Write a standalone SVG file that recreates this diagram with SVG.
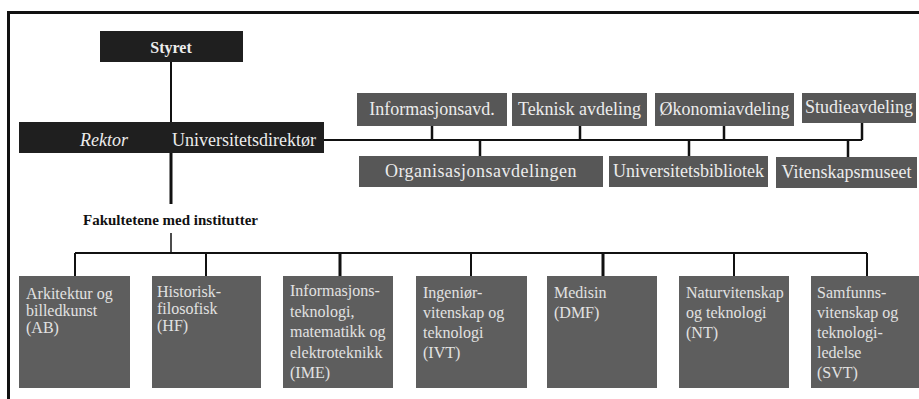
<svg xmlns="http://www.w3.org/2000/svg" width="919" height="399" viewBox="0 0 919 399">
<style>
.dark{fill:#1f1f1f}
.dept{fill:#575757}
.fac{fill:#5e5e5e}
.t{font-family:"Liberation Serif","Times New Roman",serif;fill:#ececec}
.dt{font-size:18px;text-anchor:middle}
.ft{font-size:16px;fill:#e2e2e2}
.ln{stroke:#111;fill:none}
</style>
<rect x="0" y="0" width="919" height="399" fill="#ffffff"/>
<g id="frame" class="ln" stroke-width="3">
<path d="M8.5 399 V12.5 H919"/>
</g>
<g id="connectors" class="ln">
<path d="M171 62 V122" stroke-width="2"/>
<path d="M171 153 V204" stroke-width="3"/>
<path d="M324 140 H862" stroke-width="2"/>
<path d="M432 126 V140 M580 126 V140 M724 126 V140 M862 123 V140" stroke-width="2.5"/>
<path d="M480 140 V156 M689 140 V156 M848 140 V157" stroke-width="2.5"/>
<path d="M171 233 V253" stroke-width="1.5"/>
<path d="M75 253 H867" stroke-width="2"/>
<path d="M75 253 V276 M206 253 V276 M471 253 V276 M734 253 V276 M867 253 V276" stroke-width="2"/>
<path d="M340 253 V276 M603 253 V276" stroke-width="3"/>
</g>
<g id="styret"><rect class="dark" x="100" y="31" width="143" height="31"/><text class="t" x="171" y="53" font-size="16" font-weight="bold" text-anchor="middle">Styret</text></g>
<g id="rektor"><rect class="dark" x="19" y="122" width="305" height="31"/><text class="t" x="104" y="146" font-size="18" text-anchor="middle" font-style="italic">Rektor</text><text class="t" x="244" y="146" font-size="18" text-anchor="middle">Universitetsdirektør</text></g>
<g id="informasjonsavd"><rect class="dept" x="357" y="93" width="150" height="33"/><text class="t dt" x="432" y="115">Informasjonsavd.</text></g>
<g id="teknisk"><rect class="dept" x="512" y="93" width="135" height="33"/><text class="t dt" x="579.5" y="115">Teknisk avdeling</text></g>
<g id="okonomi"><rect class="dept" x="655" y="93" width="139" height="33"/><text class="t dt" x="724.5" y="115">Økonomiavdeling</text></g>
<g id="studie"><rect class="dept" x="802" y="93" width="114" height="30"/><text class="t dt" x="859" y="113">Studieavdeling</text></g>
<g id="organisasjon"><rect class="dept" x="359" y="156" width="244" height="31"/><text class="t dt" x="481" y="177" letter-spacing="0.5">Organisasjonsavdelingen</text></g>
<g id="ub"><rect class="dept" x="609" y="156" width="159" height="31"/><text class="t dt" x="688.5" y="177">Universitetsbibliotek</text></g>
<g id="vm"><rect class="dept" x="776" y="157" width="141" height="31"/><text class="t dt" x="846.5" y="178">Vitenskapsmuseet</text></g>
<g id="fakultetene"><text x="83" y="225" font-family="'Liberation Serif','Times New Roman',serif" font-size="15" font-weight="bold" fill="#111">Fakultetene med institutter</text></g>
<g id="ab"><rect class="fac" x="19" y="276" width="111" height="112"/><text class="t ft" x="26" y="299"><tspan x="26">Arkitektur og</tspan><tspan x="26" dy="17">billedkunst</tspan><tspan x="26" dy="17">(AB)</tspan></text></g>
<g id="hf"><rect class="fac" x="152" y="276" width="109" height="112"/><text class="t ft" x="157" y="297"><tspan x="157">Historisk-</tspan><tspan x="157" dy="17">filosofisk</tspan><tspan x="157" dy="17">(HF)</tspan></text></g>
<g id="ime"><rect class="fac" x="283" y="276" width="110" height="112"/><text class="t ft" x="290" y="296"><tspan x="290">Informasjons-</tspan><tspan x="290" dy="20.5">teknologi,</tspan><tspan x="290" dy="20.5">matematikk og</tspan><tspan x="290" dy="20.5">elektroteknikk</tspan><tspan x="290" dy="20.5">(IME)</tspan></text></g>
<g id="ivt"><rect class="fac" x="416" y="276" width="111" height="112"/><text class="t ft" x="423" y="298"><tspan x="423">Ingeniør-</tspan><tspan x="423" dy="20">vitenskap og</tspan><tspan x="423" dy="20">teknologi</tspan><tspan x="423" dy="20">(IVT)</tspan></text></g>
<g id="dmf"><rect class="fac" x="547" y="276" width="110" height="112"/><text class="t ft" x="554" y="298"><tspan x="554">Medisin</tspan><tspan x="554" dy="20">(DMF)</tspan></text></g>
<g id="nt"><rect class="fac" x="679" y="276" width="110" height="112"/><text class="t ft" x="686" y="298"><tspan x="686">Naturvitenskap</tspan><tspan x="686" dy="20">og teknologi</tspan><tspan x="686" dy="20">(NT)</tspan></text></g>
<g id="svt"><rect class="fac" x="811" y="276" width="110" height="112"/><text class="t ft" x="817" y="298"><tspan x="817">Samfunns-</tspan><tspan x="817" dy="20">vitenskap og</tspan><tspan x="817" dy="20">teknologi-</tspan><tspan x="817" dy="20">ledelse</tspan><tspan x="817" dy="20">(SVT)</tspan></text></g>
</svg>
